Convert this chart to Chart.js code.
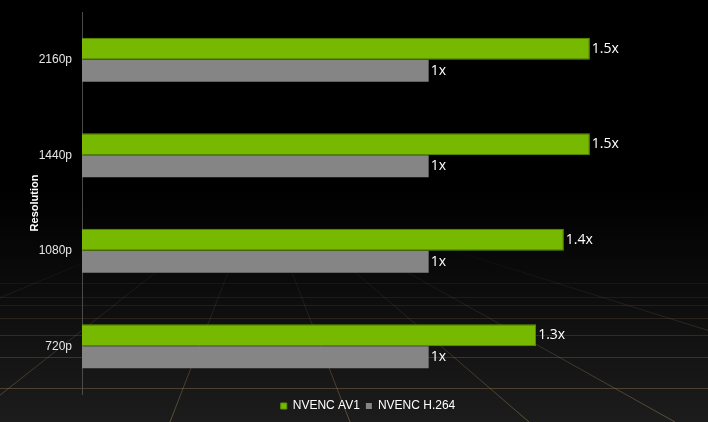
<!DOCTYPE html>
<html>
<head>
<meta charset="utf-8">
<script src="https://cdn.jsdelivr.net/npm/chart.js@4/dist/chart.umd.min.js"></script>
<style>
  html, body { margin: 0; padding: 0; background: #000; }
  #wrap { width: 708px; height: 422px; }
</style>
</head>
<body>
<div id="wrap"><canvas id="chart"></canvas></div>
<script>
// ─── Data ────────────────────────────────────────────
var resolutions = ['2160p', '1440p', '1080p', '720p'];
var av1Values   = [1.465, 1.465, 1.39, 1.31];
var h264Values  = [1, 1, 1, 1];
var av1Labels   = ['1.5x', '1.5x', '1.4x', '1.3x'];
var h264Labels  = ['1x', '1x', '1x', '1x'];

var GREEN = '#76b900';
var GREY  = '#858585';

// ─── Background: dark floor with perspective grid ───
var floorPlugin = {
    id: 'floor',
    beforeDraw: function(chart) {
        var ctx = chart.ctx, w = chart.width, h = chart.height;
        ctx.save();
        var g = ctx.createLinearGradient(0, 0, 0, h);
        g.addColorStop(0, '#000');
        g.addColorStop(0.45, '#000');
        g.addColorStop(1, '#1c1c1c');
        ctx.fillStyle = g;
        ctx.fillRect(0, 0, w, h);

        var lg = ctx.createLinearGradient(0, 240, 0, h);
        lg.addColorStop(0, 'rgba(140,115,80,0)');
        lg.addColorStop(0.4, 'rgba(140,115,80,0.18)');
        lg.addColorStop(1, 'rgba(160,130,90,0.5)');
        ctx.strokeStyle = lg;
        ctx.lineWidth = 1;

        var vx = 260, vy = 190;
        [-300, -34, 170, 350, 529, 675, 1000].forEach(function(bx) {
            ctx.beginPath();
            ctx.moveTo(vx, vy);
            ctx.lineTo(bx, h);
            ctx.stroke();
        });
        [283, 297, 305, 318, 335, 357, 388].forEach(function(y) {
            ctx.beginPath();
            ctx.moveTo(0, y + 0.5);
            ctx.lineTo(w, y + 0.5);
            ctx.stroke();
        });
        ctx.restore();
    }
};

// ─── Value labels at bar ends ───────────────────────
var barLabelPlugin = {
    id: 'barLabels',
    afterDatasetsDraw: function(chart) {
        var ctx = chart.ctx;
        ctx.save();
        ctx.font = '14px "Open Sans", sans-serif';
        ctx.fillStyle = '#fff';
        ctx.textBaseline = 'middle';
        ctx.textAlign = 'left';
        chart.data.datasets.forEach(function(ds, di) {
            var meta = chart.getDatasetMeta(di);
            meta.data.forEach(function(el, i) {
                ctx.fillText(ds.valueLabels[i], el.x + 2, el.y);
            });
        });
        ctx.restore();
    }
};

new Chart(document.getElementById('chart').getContext('2d'), {
    type: 'bar',
    data: {
        labels: resolutions,
        datasets: [
            { label: 'NVENC AV1', data: av1Values, valueLabels: av1Labels,
              backgroundColor: GREEN, borderColor: '#5f9300', borderWidth: 1, borderSkipped: 'start' },
            { label: 'NVENC H.264', data: h264Values, valueLabels: h264Labels,
              backgroundColor: GREY, borderWidth: 0 }
        ]
    },
    options: {
        indexAxis: 'y',
        responsive: true, maintainAspectRatio: false,
        animation: false,
        datasets: { bar: { categoryPercentage: 0.46, barPercentage: 1 } },
        layout: { padding: { top: 12, right: 54, bottom: 0, left: 0 } },
        plugins: {
            tooltip: { enabled: false },
            legend: {
                position: 'bottom',
                fullSize: false,
                labels: {
                    color: '#fff',
                    boxWidth: 6, boxHeight: 6,
                    padding: 6,
                    font: { family: '"Liberation Sans", Arial', size: 12 }
                }
            }
        },
        scales: {
            x: { display: false, min: 0, max: 1.65 },
            y: {
                // fixed axis width; drop the label padding so the plot starts near the top
                afterFit: function(s) { s.width = 82; s.paddingTop = 0; s.paddingBottom = 0; },
                grid: { display: false, drawTicks: false },
                border: { display: true, color: '#4a4a4a', width: 1 },
                ticks: { color: '#e6e6e6', padding: 10,
                         font: { family: '"Liberation Sans", Arial', size: 12 } },
                title: {
                    display: true, text: 'Resolution', color: '#fff',
                    padding: { top: 28, bottom: 0 },
                    font: { family: '"Liberation Sans", Arial', size: 11, weight: 'bold' }
                }
            }
        }
    },
    plugins: [floorPlugin, barLabelPlugin]
});
</script>
</body>
</html>
